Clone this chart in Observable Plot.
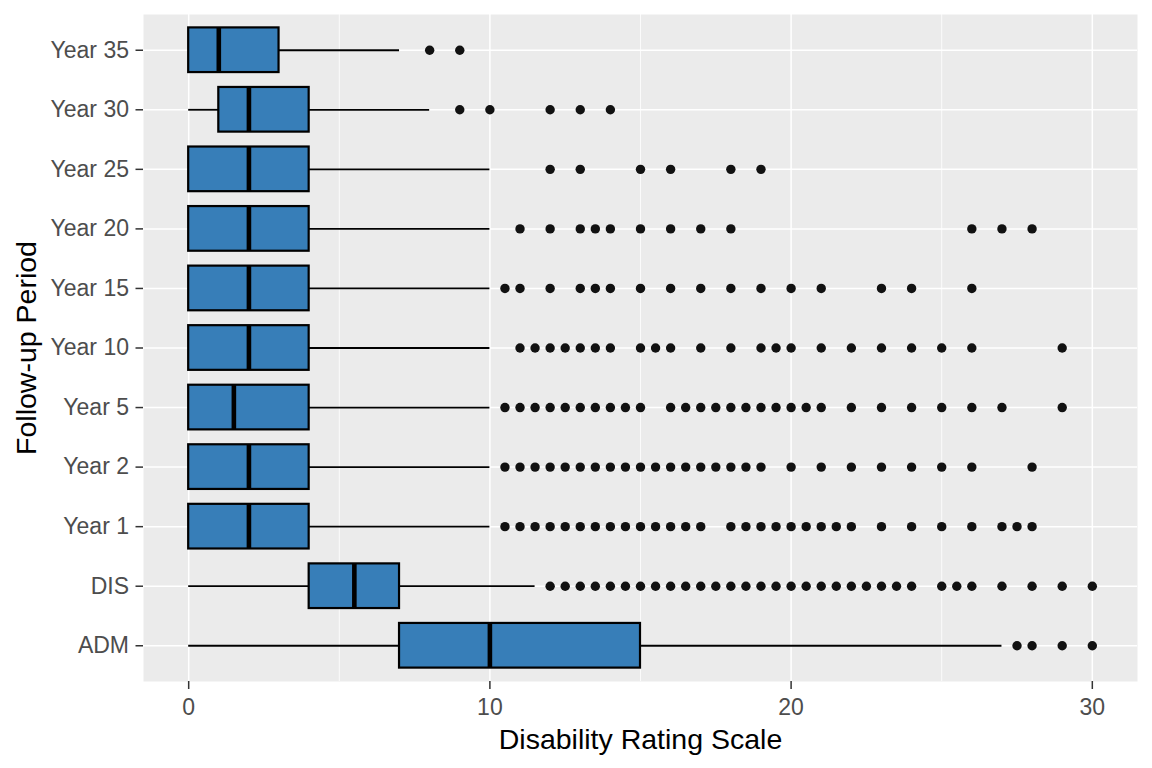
<!DOCTYPE html>
<html>
<head>
<meta charset="utf-8">
<script src="https://cdn.jsdelivr.net/npm/d3@7"></script>
<script src="https://cdn.jsdelivr.net/npm/@observablehq/plot@0.6"></script>
<style>
html, body { margin: 0; padding: 0; background: #ffffff; }
#chart { width: 1152px; height: 768px; }
</style>
</head>
<body>
<div id="chart"></div>
<script>
// Categories, bottom to top
const categories = ["ADM", "DIS", "Year 1", "Year 2", "Year 5", "Year 10", "Year 15", "Year 20", "Year 25", "Year 30", "Year 35"];

// Box statistics (same order as categories)
const whiskerLow  = [0,   0,   0, 0, 0,   0, 0, 0, 0, 0, 0];
const q1          = [7,   4,   0, 0, 0,   0, 0, 0, 0, 1, 0];
const median      = [10,  5.5, 2, 2, 1.5, 2, 2, 2, 2, 2, 1];
const q3          = [15,  7,   4, 4, 4,   4, 4, 4, 4, 4, 3];
const whiskerHigh = [27, 11.5, 10, 10, 10, 10, 10, 10, 10, 8, 7];

// Outliers per category
const outADM = [27.5, 28, 29, 30];
const outDIS = [12, 12.5, 13, 13.5, 14, 14.5, 15, 15.5, 16, 16.5, 17, 17.5, 18, 18.5, 19, 19.5, 20, 20.5, 21, 21.5, 22, 22.5, 23, 23.5, 24, 25, 25.5, 26, 27, 28, 29, 30];
const outY1  = [10.5, 11, 11.5, 12, 12.5, 13, 13.5, 14, 14.5, 15, 15.5, 16, 16.5, 17, 18, 18.5, 19, 19.5, 20, 20.5, 21, 21.5, 22, 23, 24, 25, 26, 27, 27.5, 28];
const outY2  = [10.5, 11, 11.5, 12, 12.5, 13, 13.5, 14, 14.5, 15, 15.5, 16, 16.5, 17, 17.5, 18, 18.5, 19, 20, 21, 22, 23, 24, 25, 26, 28];
const outY5  = [10.5, 11, 11.5, 12, 12.5, 13, 13.5, 14, 14.5, 15, 16, 16.5, 17, 17.5, 18, 18.5, 19, 19.5, 20, 20.5, 21, 22, 23, 24, 25, 26, 27, 29];
const outY10 = [11, 11.5, 12, 12.5, 13, 13.5, 14, 15, 15.5, 16, 17, 18, 19, 19.5, 20, 21, 22, 23, 24, 25, 26, 29];
const outY15 = [10.5, 11, 12, 13, 13.5, 14, 15, 16, 17, 18, 19, 20, 21, 23, 24, 26];
const outY20 = [11, 12, 13, 13.5, 14, 15, 16, 17, 18, 26, 27, 28];
const outY25 = [12, 13, 15, 16, 18, 19];
const outY30 = [9, 10, 12, 13, 14];
const outY35 = [8, 9];

// Axis ticks
const xMajorTicks = [0, 10, 20, 30];
const xMinorTicks = [5, 15, 25];

const outlierLists = [outADM, outDIS, outY1, outY2, outY5, outY10, outY15, outY20, outY25, outY30, outY35];

const boxes = categories.map((c, i) => ({
  cat: c, lo: whiskerLow[i], q1: q1[i], med: median[i], q3: q3[i], hi: whiskerHigh[i]
}));
const outlierPoints = categories.flatMap((c, i) => outlierLists[i].map(v => ({cat: c, value: v})));

const chart = Plot.plot({
  width: 1152,
  height: 768,
  marginTop: 14,
  marginRight: 15,
  marginBottom: 87,
  marginLeft: 143,
  style: {
    fontFamily: "'Liberation Sans', Arial, sans-serif",
    fontSize: "23px",
    background: "#ffffff"
  },
  x: { domain: [-1.5, 31.5] },
  y: { type: "band", domain: categories.slice().reverse(), paddingInner: 0.25, paddingOuter: 0.225, round: false },
  marks: [
    Plot.frame({ fill: "#EBEBEB", stroke: "none" }),
    Plot.ruleX(xMinorTicks, { x: d => d, stroke: "#ffffff", strokeWidth: 0.8 }),
    Plot.ruleX(xMajorTicks, { x: d => d, stroke: "#ffffff", strokeWidth: 1.5 }),
    Plot.ruleY(categories, { y: d => d, stroke: "#ffffff", strokeWidth: 1.5 }),
    Plot.ruleY(boxes.filter(d => d.lo < d.q1), { y: "cat", x1: "lo", x2: "q1", stroke: "#000000", strokeWidth: 1.8 }),
    Plot.ruleY(boxes.filter(d => d.hi > d.q3), { y: "cat", x1: "q3", x2: "hi", stroke: "#000000", strokeWidth: 1.8 }),
    Plot.barX(boxes, { y: "cat", x1: "q1", x2: "q3", fill: "#377EB8", stroke: "#000000", strokeWidth: 2.2 }),
    Plot.tickX(boxes, { y: "cat", x: "med", stroke: "#000000", strokeWidth: 4.6 }),
    Plot.dot(outlierPoints, { x: "value", y: "cat", r: 4.7, fill: "#111111", stroke: "none" }),
    Plot.axisX(xMajorTicks, { tickSize: 8, tickPadding: 9.3, stroke: "#333333", fill: "#4D4D4D", fontSize: 23, label: null, strokeWidth: 1.5 }),
    Plot.axisY({ tickSize: 7.5, tickPadding: 7, stroke: "#333333", fill: "#4D4D4D", fontSize: 23, label: null, strokeWidth: 1.5 }),
    Plot.text(["Disability Rating Scale"], { text: d => d, frameAnchor: "bottom", textAnchor: "middle", lineAnchor: "middle", dy: 58, fontSize: 28.5, fill: "#000000" }),
    Plot.text(["Follow-up Period"], { text: d => d, frameAnchor: "left", textAnchor: "middle", lineAnchor: "middle", dx: -117, rotate: -90, fontSize: 28.5, fill: "#000000" })
  ]
});

document.getElementById("chart").appendChild(chart);
</script>
</body>
</html>
